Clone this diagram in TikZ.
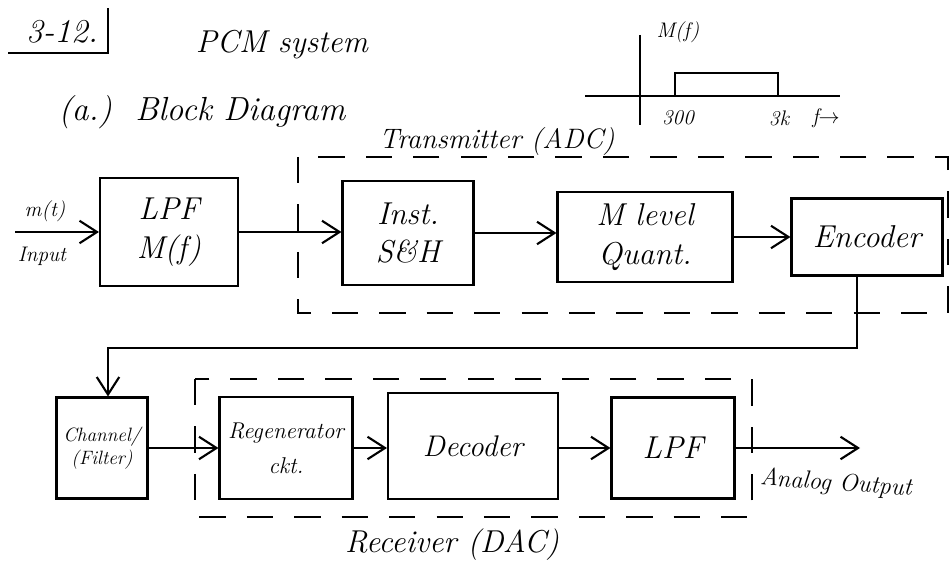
\documentclass[tikz,border=0pt]{standalone}
\usepackage{amsmath,amssymb}
\usepackage{tikz}
\usetikzlibrary{positioning,arrows.meta,calc}

\begin{document}
\begin{tikzpicture}[
  x=0.02cm, y=-0.02cm,
  font=\itshape,
  >={Straight Barb[length=3.5mm,width=4.5mm]},
  block/.style={draw=black, line width=1.2pt, align=center, inner sep=2pt},
  flow/.style={->, draw=black, line width=1.2pt},
  dashbox/.style={draw=black, line width=1.2pt, dash pattern=on 15pt off 12pt},
  axisline/.style={draw=black, line width=1pt},
  smalltext/.style={font=\fontsize{12}{14}\selectfont\itshape}
]
  \useasboundingbox (0,0) rectangle (951,567);

  \node[font=\fontsize{19}{20}\selectfont\itshape] (probnum) at (62,32) {3-12.};
  \draw[line width=1.2pt] (8,53) -| (108,8);
  \node[font=\fontsize{18}{20}\selectfont\itshape] (pcmtitle) at (282,45) {PCM system};
  \node[font=\fontsize{19}{22}\selectfont\itshape] (subtitle) at (202,112) {(a.)\ \ Block Diagram};

  \draw[axisline] (585,96) -- (840,96);
  \draw[axisline] (640,35) -- (640,125);
  \draw[axisline] (675,96) |- (778,73) -- (778,96);
  \node[smalltext] (mflabel) at (678,32) {M(f)};
  \node[smalltext] (lowf) at (678,118) {300};
  \node[smalltext] (highf) at (779,118) {3k};
  \node[smalltext] (faxis) at (826,118) {f$\rightarrow$};

  \node[block, minimum width=2.76cm, minimum height=2.16cm, font=\fontsize{18}{22}\selectfont\itshape] (lpf) at (169,232) {LPF\\M(f)};
  \node[block, minimum width=2.62cm, minimum height=2.08cm, font=\fontsize{18}{22}\selectfont\itshape] (snh) at (408,233) {Inst.\\S\&H};
  \node[block, minimum width=3.5cm, minimum height=1.8cm, font=\fontsize{18}{22}\selectfont\itshape] (quant) at (645,237) {M level\\Quant.};
  \node[block, minimum width=3.02cm, minimum height=1.54cm, font=\fontsize{18}{22}\selectfont\itshape] (enc) at (867,237) {Encoder};

  \node[block, minimum width=1.82cm, minimum height=2.02cm, font=\fontsize{11}{13}\selectfont\itshape] (chan) at (102,448) {Channel/\\(Filter)};
  \node[block, minimum width=2.66cm, minimum height=2.04cm, font=\fontsize{13}{20}\selectfont\itshape] (regen) at (286,448) {Regenerator\\ckt.};
  \node[block, minimum width=3.4cm, minimum height=2.12cm, font=\fontsize{17}{20}\selectfont\itshape] (dec) at (473,446) {Decoder};
  \node[block, minimum width=2.46cm, minimum height=2.02cm, font=\fontsize{18}{20}\selectfont\itshape] (lpfr) at (673,448) {LPF};

  \draw[dashbox] (298,157) rectangle (948,313);
  \node[font=\fontsize{16}{18}\selectfont\itshape, anchor=south] (txlabel) at (497,162) {Transmitter (ADC)};
  \draw[dashbox] (195,379) rectangle (752,517);
  \node[font=\fontsize{18}{20}\selectfont\itshape] (rxlabel) at (452,545) {Receiver (DAC)};

  \coordinate (src) at (15,232);
  \node[smalltext] (msig) at (45,211) {m(t)};
  \node[smalltext] (inlabel) at (42,256) {Input};
  \draw[flow] (src) -- (lpf.west);
  \draw[flow] (lpf.east) -- (lpf.east -| snh.west);
  \draw[flow] (snh.east) -- (snh.east -| quant.west);
  \draw[flow] (quant.east) -- (quant.east -| enc.west);

  \coordinate (drop) at (857,348);
  \coordinate (turn) at (108,348);
  \draw[flow] (drop |- enc.south) -- (drop) -- (turn) -- (turn |- chan.north);

  \draw[flow] (chan.east) -- (chan.east -| regen.west);
  \draw[flow] (regen.east) -- (regen.east -| dec.west);
  \draw[flow] (dec.east |- lpfr.east) -- (lpfr.west);
  \coordinate (sink) at (860,448);
  \draw[flow] (lpfr.east) -- (sink);
  \node[font=\fontsize{14}{16}\selectfont\itshape, rotate=-4] (outlabel) at (836,484) {Analog Output};
\end{tikzpicture}
\end{document}
